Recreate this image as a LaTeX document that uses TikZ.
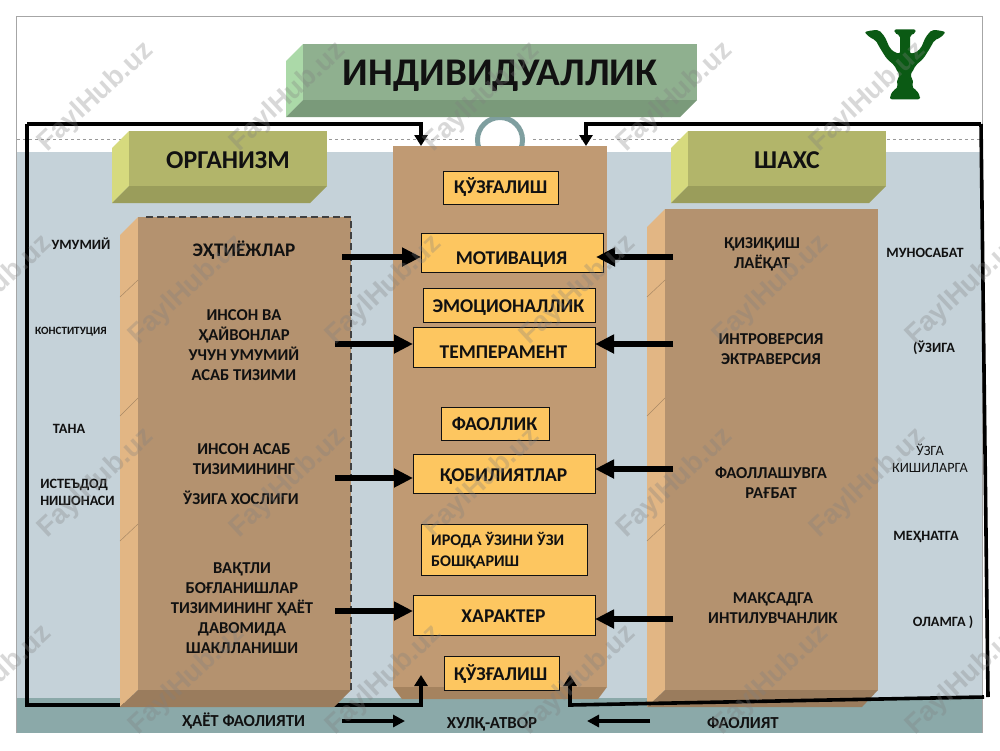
\documentclass[tikz,border=0pt]{standalone}
\usepackage{fontspec}
\setmainfont{Carlito}
\newfontfamily\wmfont{Liberation Sans}
\usetikzlibrary{arrows.meta}
\definecolor{bgblue}{HTML}{C5D2D9}
\definecolor{bgteal}{HTML}{8BA9A9}
\definecolor{ringc}{HTML}{7F9FA0}
\definecolor{boxy}{HTML}{FDC660}
\definecolor{tfront}{HTML}{8FB08F}
\definecolor{tleft}{HTML}{ABD9A8}
\definecolor{tbot}{HTML}{7A9A7A}
\definecolor{ofront}{HTML}{B2B56A}
\definecolor{oleft}{HTML}{D6DA7E}
\definecolor{obot}{HTML}{9A9D5B}
\definecolor{bfront}{HTML}{B4926F}
\definecolor{bleft}{HTML}{E2B684}
\definecolor{bbot}{HTML}{9A7C5D}
\definecolor{cfront}{HTML}{C09A73}
\definecolor{cbot}{HTML}{A5835F}
\definecolor{psi}{HTML}{0B5A14}
\definecolor{ink}{HTML}{111111}
\tikzset{
  x=1pt,y=-1pt,
  face/.style={inner sep=0pt,outer sep=0pt,anchor=north west,text=ink,font=\bfseries,align=center},
  ybox/.style={draw=ink,line width=0.9pt,fill=boxy,inner sep=0pt,outer sep=0pt,anchor=north west},
  boxtxt/.style={inner sep=0pt,text=ink,text height=12.5pt,text depth=0pt,font=\fontsize{19.5}{21}\selectfont\bfseries},
  lab/.style={inner sep=0pt,text=ink,align=center,font=\fontsize{16.6}{20}\selectfont\bfseries},
  side/.style={inner sep=0pt,text=ink,align=center,font=\fontsize{14.2}{17}\selectfont\bfseries},
  bottomlab/.style={inner sep=0pt,text=ink,align=center,font=\fontsize{16.8}{18}\selectfont\bfseries},
  bigarrow/.style={line width=6pt,-{Triangle[length=19pt,width=18pt]},draw=black},
  smallarrow/.style={line width=3.5pt,-{Triangle[length=12pt,width=12pt]},draw=black},
  looparrow/.style={line width=3.6pt,draw=black,line join=miter},
  lhead/.style={-{Triangle[length=11pt,width=13pt]}},
  crease/.style={draw=bbot!80!bleft,line width=0.5pt},
  wmark/.style={inner sep=0pt,font=\wmfont\bfseries\fontsize{27.5}{29}\selectfont,rotate=43,text=gray,opacity=0.3},
}
\begin{document}
\begin{tikzpicture}
\clip (0,0) rectangle (1000,750);
\fill[white] (0,0) rectangle (1000,750);
% slide
\fill[bgblue] (16,152) rectangle (983,698);
\fill[bgteal] (16,698) rectangle (983,733);
\draw[gray!70,line width=0.8pt] (16.5,733) -- (16.5,16.5) -- (982.5,16.5) -- (982.5,733);
\draw[gray!80,line width=0.4pt,dashed] (17,139.5) -- (466,139.5) (533,139.5) -- (980,139.5);
\draw[ringc,line width=5pt,fill=white] (500,140) circle[radius=22.5];
% centre block
\fill[cbot] (393,687) -- (607,687) -- (598,699) -- (402,699) -- cycle;
\node[face,fill=cfront,minimum width=214pt,minimum height=541pt] (centre) at (393,146) {};
% left loop (passes behind the organism block)
\coordinate (ltop) at (421,146);
\coordinate (lbot) at (421,675);
\coordinate (lnw) at (27,124);
\coordinate (lsw) at (27,705);
\draw[looparrow,lhead] (lnw) -- (lnw -| ltop) -- (ltop);
\draw[looparrow,lhead] (lnw) -- (lsw) -- (lsw -| lbot) -- (lbot);
% organism body
\fill[bleft] (120,235) -- (138,217) -- (138,690) -- (120,707) -- cycle;
\fill[bbot] (120,707) -- (138,690) -- (351,690) -- (334,707) -- cycle;
\node[face,fill=bfront,minimum width=213pt,minimum height=473pt] (body) at (138,217) {};
\draw[crease] (120,297) -- (138,280) (120,416) -- (138,398) (120,541) -- (138,524);
\draw[black!75,line width=1.3pt,dash pattern=on 7pt off 4pt] (146,217) -- (351,217) -- (351,690);
% personality body
\fill[bleft] (647,227) -- (665,209) -- (665,690) -- (647,707) -- cycle;
\fill[bbot] (647,707) -- (665,690) -- (878,690) -- (862,707) -- cycle;
\node[face,fill=bfront,minimum width=213pt,minimum height=481pt] (pers) at (665,209) {};
\draw[crease] (647,297) -- (665,280) (647,416) -- (665,398) (647,541) -- (665,524);
% title
\fill[tleft] (286,61) -- (303,44) -- (303,100) -- (286,117) -- cycle;
\fill[tbot] (286,117) -- (303,100) -- (697,100) -- (680,117) -- cycle;
\node[face,fill=tfront,minimum width=394pt,minimum height=56pt] (titlef) at (303,44) {};
\node[text=ink,inner sep=0pt,font=\fontsize{39.2}{41}\selectfont\bfseries] (title) at (500,76) {ИНДИВИДУАЛЛИК};
% organism header
\fill[oleft] (112,148) -- (129,131) -- (129,186) -- (112,203) -- cycle;
\fill[obot] (112,203) -- (129,186) -- (327,186) -- (310,203) -- cycle;
\node[face,fill=ofront,minimum width=198pt,minimum height=55pt] (orgf) at (129,131) {};
\node[text=ink,inner sep=0pt,font=\fontsize{25.7}{27}\selectfont\bfseries] (org) at (228,160.5) {ОРГАНИЗМ};
% personality header
\fill[oleft] (671,148) -- (688,131) -- (688,186) -- (671,203) -- cycle;
\fill[obot] (671,203) -- (688,186) -- (886,186) -- (869,203) -- cycle;
\node[face,fill=ofront,minimum width=198pt,minimum height=55pt] (persf) at (688,131) {};
\node[text=ink,inner sep=0pt,font=\fontsize{25.7}{27}\selectfont\bfseries] (shax) at (787,160.5) {ШАХС};
% yellow boxes
\node[ybox,minimum width=115pt,minimum height=33pt] (q1) at (443,171) {};
\node[ybox,minimum width=182pt,minimum height=39pt] (mot) at (421,233) {};
\node[ybox,minimum width=172pt,minimum height=34pt] (emo) at (423,288) {};
\node[ybox,minimum width=182pt,minimum height=40pt] (tem) at (413,327) {};
\node[ybox,minimum width=108pt,minimum height=33pt] (fao) at (441,407) {};
\node[ybox,minimum width=182pt,minimum height=39pt] (qob) at (413,454) {};
\node[ybox,minimum width=166pt,minimum height=51pt] (iro) at (421,524) {};
\node[ybox,minimum width=182pt,minimum height=40pt] (xar) at (413,595) {};
\node[ybox,minimum width=115pt,minimum height=34pt] (q2) at (444,656) {};
% box texts
\node[boxtxt] (q1t) at (500.5,187.5) {ҚЎЗҒАЛИШ};
\node[boxtxt] (mott) at (511.5,258) {МОТИВАЦИЯ};
\node[boxtxt] (emot) at (508.5,306) {ЭМОЦИОНАЛЛИК};
\node[boxtxt] (temt) at (503.5,352) {ТЕМПЕРАМЕНТ};
\node[boxtxt] (faot) at (494.5,424) {ФАОЛЛИК};
\node[boxtxt] (qobt) at (503.5,475) {ҚОБИЛИЯТЛАР};
\node[inner sep=0pt,text=ink,anchor=west,align=left,font=\fontsize{16.2}{21}\selectfont\bfseries] (irot) at (431,550.5) {ИРОДА ЎЗИНИ ЎЗИ\\БОШҚАРИШ};
\node[boxtxt] (xart) at (503.5,616) {ХАРАКТЕР};
\node[boxtxt] (q2t) at (500.5,674) {ҚЎЗҒАЛИШ};
% right loop
\coordinate (rtop) at (586,146);
\coordinate (rne) at (981,124);
\coordinate (rse) at (988,697);
\coordinate (rbe) at (984,697);
\coordinate (rbm) at (570,705);
\coordinate (rbot) at (570,675);
\draw[looparrow,lhead] (rne) -- (rne -| rtop) -- (rtop);
\draw[looparrow] (rne) -- (rse);
\draw[looparrow,lhead] (rbe) -- (rbm) -- (rbot);
% organism labels
\node[lab,font=\fontsize{19.2}{20}\selectfont\bfseries] (o1) at (244,250) {ЭҲТИЁЖЛАР};
\node[lab] (o2) at (244,345) {ИНСОН ВА\\ҲАЙВОНЛАР\\УЧУН УМУМИЙ\\АСАБ ТИЗИМИ};
\node[lab] (o3) at (244,459.5) {ИНСОН АСАБ\\ТИЗИМИНИНГ};
\node[lab] (o4) at (241,498) {ЎЗИГА ХОСЛИГИ};
\node[lab] (o5) at (242,608) {ВАҚТЛИ\\БОҒЛАНИШЛАР\\ТИЗИМИНИНГ ҲАЁТ\\ДАВОМИДА\\ШАКЛЛАНИШИ};
% personality labels
\node[lab] (p1) at (762,254.5) {ҚИЗИҚИШ\\ЛАЁҚАТ};
\node[lab] (p2) at (771,349) {ИНТРОВЕРСИЯ\\ЭКТРАВЕРСИЯ};
\node[lab] (p3) at (771,482.5) {ФАОЛЛАШУВГА\\РАҒБАТ};
\node[lab] (p4) at (773,608.5) {МАҚСАДГА\\ИНТИЛУВЧАНЛИК};
% side labels
\node[side] (s1) at (81,244) {УМУМИЙ};
\node[side,font=\fontsize{11.1}{14}\selectfont\bfseries] (s2) at (71,332) {КОНСТИТУЦИЯ};
\node[side] (s3) at (69,428.5) {ТАНА};
\node[side,align=left] (s4) at (77.5,492) {ИСТЕЪДОД\\НИШОНАСИ};
\node[side] (s5) at (925,252.5) {МУНОСАБАТ};
\node[side] (s6) at (934,347.5) {(ЎЗИГА};
\node[side,font=\fontsize{14.2}{17}\selectfont] (s7) at (930,458) {ЎЗГА\\КИШИЛАРГА};
\node[side] (s8) at (926,536.5) {МЕҲНАТГА};
\node[side] (s9) at (943,622.5) {ОЛАМГА )};
% bottom labels
\node[bottomlab] (b1) at (243.5,721) {ҲАЁТ ФАОЛИЯТИ};
\node[bottomlab] (b2) at (492,724) {ХУЛҚ-АТВОР};
\node[bottomlab] (b3) at (743,723) {ФАОЛИЯТ};
% block arrows
\coordinate (a1) at (342,257);
\coordinate (a2) at (335,344);
\coordinate (a3) at (335,478);
\coordinate (a4) at (335,611);
\coordinate (c1) at (673,257);
\coordinate (c2) at (673,344);
\coordinate (c3) at (673,469);
\coordinate (c4) at (673,619);
\draw[bigarrow] (a1) -- (a1 -| mot.west);
\draw[bigarrow] (a2) -- (a2 -| tem.west);
\draw[bigarrow] (a3) -- (a3 -| qob.west);
\draw[bigarrow] (a4) -- (a4 -| xar.west);
\draw[bigarrow] (c1) -- ++(-77,0);
\draw[bigarrow] (c2) -- (c2 -| tem.east);
\draw[bigarrow] (c3) -- (c3 -| qob.east);
\draw[bigarrow] (c4) -- (c4 -| xar.east);
\coordinate (d1) at (342,721);
\coordinate (d2) at (405,721);
\coordinate (d3) at (650,721);
\coordinate (d4) at (587,721);
\draw[smallarrow] (d1) -- (d2);
\draw[smallarrow] (d3) -- (d4);
% psi emblem
\begin{scope}[shift={(855,22)},x=0.3333pt,y=-0.3333pt]
\fill[psi,rounded corners=2pt] (28,30) -- (50,25) -- (72,24) -- (90,45) -- (104,78) -- (120,92) -- (135,95) -- (135,40) -- (118,33) -- (118,22) -- (182,22) -- (182,33) -- (165,40) -- (165,95) -- (182,92) -- (198,78) -- (212,45) -- (230,24) -- (252,25) -- (272,30) -- (258,46) -- (238,55) -- (224,80) -- (205,110) -- (182,130) -- (172,150) -- (165,158) -- (172,170) -- (175,185) -- (170,195) -- (185,205) -- (195,222) -- (195,232) -- (105,232) -- (105,222) -- (115,205) -- (130,195) -- (125,185) -- (128,170) -- (135,158) -- (128,150) -- (118,130) -- (95,110) -- (76,80) -- (62,55) -- (44,46) -- cycle;
\end{scope}
% watermark
\foreach \i/\wx/\wy in {1/96/97,2/288/97,3/482/97,4/675/97,5/868/97,
  6/-6/290,7/187/290,8/384/290,9/578/290,10/771/290,11/964/290,
  12/96/483,13/288/483,14/482/483,15/675/483,16/868/483,
  17/-6/680,18/187/680,19/384/680,20/578/680,21/771/680,22/964/680}{
  \node[wmark] (wm\i) at (\wx,\wy) {FaylHub.uz};
}
\end{tikzpicture}
\end{document}
